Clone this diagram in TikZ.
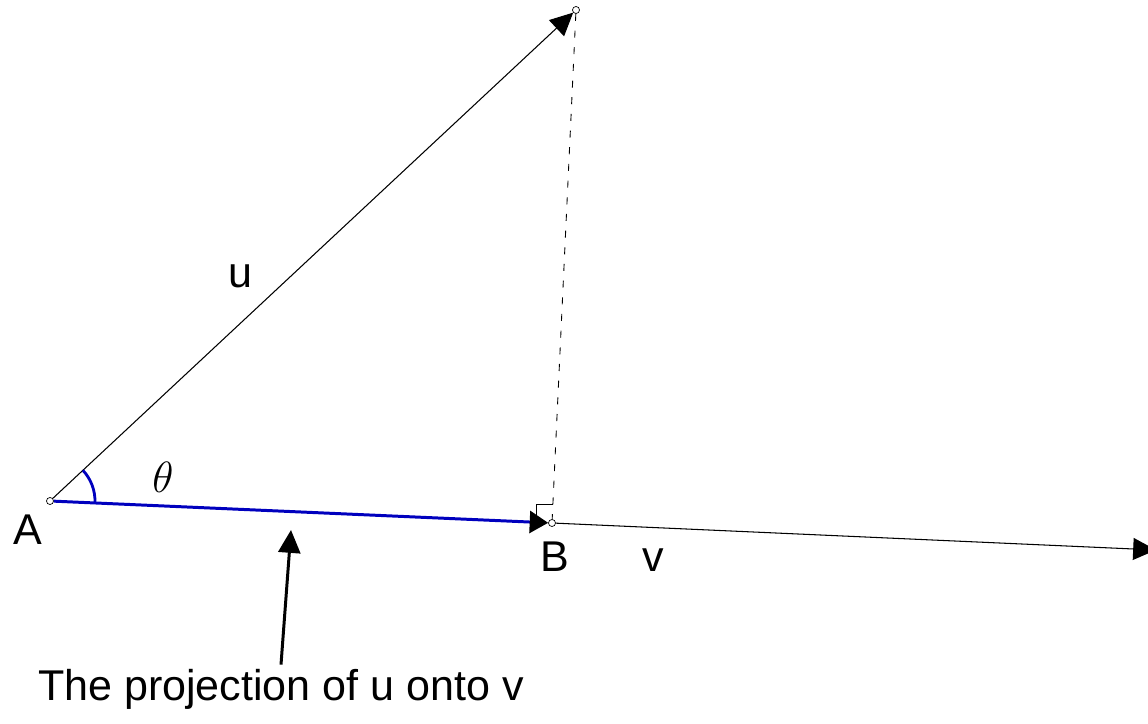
\documentclass[tikz,border=0pt]{standalone}
\usepackage{fontspec}
\setmainfont{Liberation Sans}
\usetikzlibrary{arrows.meta}
\definecolor{projblue}{RGB}{0,0,190}
\begin{document}
\begin{tikzpicture}[x=0.02cm, y=0.02cm,
    every node/.style={font=\fontsize{24.5}{29}\selectfont},
    pt/.style={circle, draw, fill=white, inner sep=0pt, minimum size=4pt, line width=0.4pt},
    vec/.style={line width=0.6pt, -{Triangle[length=13pt, width=12.5pt]}},
    projline/.style={projblue, line width=1.7pt, -{Triangle[length=10.5pt, width=12.5pt, color=black]}}]
  \useasboundingbox (0,0) rectangle (1148,723);
  % points
  \node[pt] (A) at (50,222) {};
  \node[pt] (P) at (576,713) {};
  \node[pt] (B) at (552,200) {};
  \coordinate (V) at (1156,173);
  % vectors
  \draw[vec] (A) -- (P);
  \draw[vec] (B) -- (V);
  \draw[dash pattern=on 4pt off 5.5pt, line width=0.5pt] (P) -- (B);
  \draw[projline] (A) -- (B);
  % right angle and angle mark
  \draw[line width=0.5pt] (536,208) -- (536,219) -- (553,219);
  \draw[projblue, line width=1.6pt] ([shift={(-2.5:0.9cm)}]A.center) arc[start angle=-2.5, end angle=43, radius=0.9cm];
  % labels
  \node (lA) at (28,193) {A};
  \node (lB) at (555,166) {B};
  \node (lv) at (653,163) {v};
  \node (lu) at (240,447) {u};
  \node[font=\fontsize{23}{27}\selectfont] (th) at (163,246) {$\theta$};
  \node[anchor=base] (txt) at (281,23) {The projection of u onto v};
  \coordinate (tip) at (291,193);
  \draw[line width=1.7pt, -{Triangle[length=13pt, width=12.5pt]}] (txt.north) ++(0,-2) -- (tip);
\end{tikzpicture}
\end{document}
